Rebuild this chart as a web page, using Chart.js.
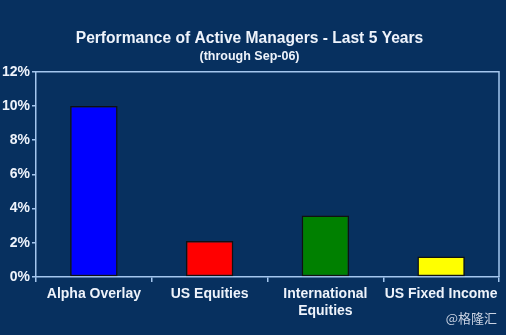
<!DOCTYPE html>
<html>
<head>
<meta charset="utf-8">
<script src="https://cdn.jsdelivr.net/npm/chart.js@4.4.1/dist/chart.umd.min.js"></script>
<style>
  html, body { margin: 0; padding: 0; background: #07305f; }
  #wrap { position: relative; width: 506px; height: 335px; }
  #mark { position: absolute; right: 9px; bottom: 8px; color: #c9d2e2; font: 13px "Noto Sans CJK SC", sans-serif; }
</style>
</head>
<body>
<div id="wrap">
  <canvas id="graph_perf" width="506" height="335"></canvas>
  <div id="mark">@格隆汇</div>
</div>
<script>
// categories and 5-year returns (%)
const managers = ["Alpha Overlay", "US Equities", ["International", "Equities"], "US Fixed Income"];
const returns = [10.0, 2.1, 3.6, 1.2];
const barColors = ["#0000ff", "#ff0000", "#008000", "#ffff00"];
const yTicks = [0, 2, 4, 6, 8, 10, 12];

const navy = "#07305f";
const axisBlue = "#a4c6ee";
const white = "#eef3fb";

// paint background and close the box on top / right of plot area
const frame = {
    id: "frame",
    beforeDraw(chart) {
        const c = chart.ctx;
        c.save();
        c.fillStyle = navy;
        c.fillRect(0, 0, chart.width, chart.height);
        c.restore();
    },
    afterDraw(chart) {
        const a = chart.chartArea;
        const c = chart.ctx;
        c.save();
        c.strokeStyle = axisBlue;
        c.lineWidth = 1.5;
        c.beginPath();
        c.moveTo(a.left, a.top);
        c.lineTo(a.right, a.top);
        c.lineTo(a.right, a.bottom);
        c.stroke();
        c.restore();
    }
};

const ctx = document.getElementById("graph_perf").getContext("2d");
const perfChart = new Chart(ctx, {
    type: "bar",
    data: {
        labels: managers,
        datasets: [{
            label: "Return",
            data: returns,
            backgroundColor: barColors,
            borderColor: "#111111",
            borderWidth: 1.5,
            borderSkipped: false,
            barPercentage: 0.41,
            categoryPercentage: 1
        }]
    },
    options: {
        responsive: false,
        animation: false,
        layout: { padding: { left: 0, right: 7, top: 0, bottom: 0 } },
        scales: {
            x: {
                offset: true,
                grid: { display: true, offset: true, drawOnChartArea: false, tickLength: 5, color: axisBlue, lineWidth: 1.5 },
                border: { display: true, color: axisBlue, width: 1.5 },
                ticks: {
                    color: white,
                    maxRotation: 0,
                    autoSkip: false,
                    padding: 3,
                    font: { family: "Arial, 'Liberation Sans', sans-serif", size: 14, weight: "bold", lineHeight: 1.25 }
                },
                afterFit(scale) { scale.height = 58; }
            },
            y: {
                min: 0,
                max: 12,
                afterBuildTicks(scale) { scale.ticks = yTicks.map(v => ({ value: v })); },
                grid: { display: true, drawOnChartArea: false, tickLength: 4, color: axisBlue, lineWidth: 1.5 },
                border: { display: true, color: axisBlue, width: 1.5 },
                ticks: {
                    color: white,
                    padding: 2,
                    font: { family: "Arial, 'Liberation Sans', sans-serif", size: 14, weight: "bold" },
                    callback: v => v + "%"
                },
                afterFit(scale) { scale.width = 36; }
            }
        },
        plugins: {
            legend: { display: false },
            tooltip: { enabled: false },
            title: {
                display: true,
                text: "Performance of Active Managers - Last 5 Years",
                color: white,
                font: { family: "Arial, 'Liberation Sans', sans-serif", size: 15.6, weight: "bold", lineHeight: 1.2 },
                padding: { top: 29.5, bottom: 1 }
            },
            subtitle: {
                display: true,
                text: "(through Sep-06)",
                color: white,
                font: { family: "Arial, 'Liberation Sans', sans-serif", size: 12.5, weight: "bold", lineHeight: 1.2 },
                padding: { top: 0, bottom: 7.5 }
            }
        }
    },
    plugins: [frame]
});
</script>
</body>
</html>
